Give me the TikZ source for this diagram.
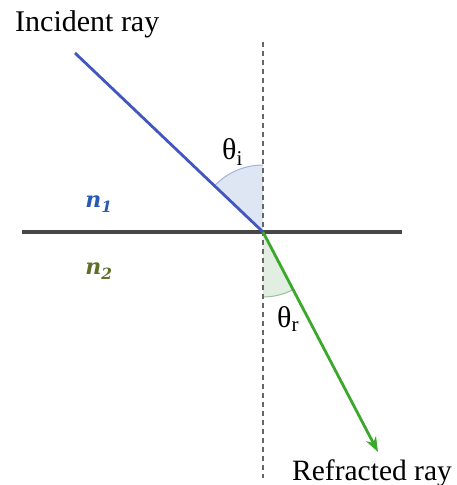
\documentclass[tikz,border=0pt]{standalone}
\usepackage{fontspec}
\setmainfont{Liberation Serif}
\newfontfamily\nfont{DejaVu Serif}
\usetikzlibrary{arrows.meta}
\definecolor{incblue}{RGB}{66,86,192}
\definecolor{refgreen}{RGB}{58,168,42}
\definecolor{wedgeblue}{RGB}{222,229,243}
\definecolor{wedgeblueedge}{RGB}{160,180,220}
\definecolor{wedgegreen}{RGB}{226,238,226}
\definecolor{wedgegreenedge}{RGB}{150,195,150}
\definecolor{nblue}{RGB}{40,90,180}
\definecolor{ngreen}{RGB}{95,110,40}
\tikzset{
  lbl/.style={font=\fontsize{30}{32}\selectfont, inner sep=0pt},
  nlbl/.style={font=\nfont\bfseries\itshape\fontsize{22}{24}\selectfont, inner sep=0pt},
  ray/.style={line width=2.8pt},
}
\begin{document}
\begin{tikzpicture}[x=1pt,y=1pt]
\useasboundingbox (0,0) rectangle (456,485);
\coordinate (O) at (263,253);
\coordinate (A) at (75,432);
\coordinate (B) at (378,33);
\coordinate (L) at (22,253);
\coordinate (R) at (402,253);
\coordinate (T) at (263,443);
\coordinate (D) at (263,7);
% wedges
\fill[wedgeblue] (O) -- ++(90:67) arc[start angle=90,end angle=136.4,radius=67] -- cycle;
\draw[wedgeblueedge,line width=1pt] (O) ++(90:67) arc[start angle=90,end angle=136.4,radius=67];
\fill[wedgegreen] (O) -- ++(270:65) arc[start angle=270,end angle=297.6,radius=65] -- cycle;
\draw[wedgegreenedge,line width=1pt] (O) ++(270:65) arc[start angle=270,end angle=297.6,radius=65];
% normal
\draw[gray!80!black,dash pattern=on 5pt off 4pt,line width=1.3pt] (T) -- (D);
% interface
\draw[black!72,line width=3.2pt] (L) -- (R);
% rays
\draw[incblue,ray] (A) -- (O);
\draw[refgreen,ray,-{Stealth[length=15pt,width=11pt]}] (O) -- (B);
% labels
\node[lbl,anchor=base west] (inc) at (15,453) {Incident ray};
\node[lbl,anchor=base west,font=\fontsize{29.5}{32}\selectfont] (refr) at (292,5) {Refracted ray};
\node[lbl,anchor=base west] (ti) at (222,325) {θ\textsubscript{i}};
\node[lbl,anchor=base west] (tr) at (277,157) {θ\textsubscript{r}};
\node[nlbl,text=nblue] (n1) at (99,281) {n\textsubscript{1}};
\node[nlbl,text=ngreen] (n2) at (99,214) {n\textsubscript{2}};
\end{tikzpicture}
\end{document}
